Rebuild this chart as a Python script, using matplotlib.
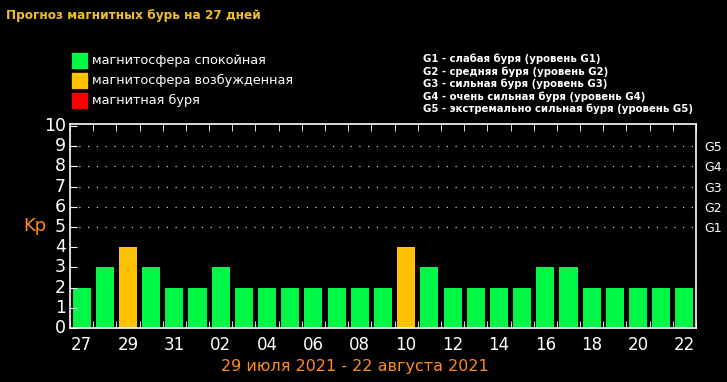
import numpy as np
import matplotlib
matplotlib.use("Agg")
import matplotlib.pyplot as plt

# Forecast data: 27 days, 27 Jul - 22 Aug 2021
days = ["27", "28", "29", "30", "31", "01", "02", "03", "04", "05", "06", "07", "08", "09",
        "10", "11", "12", "13", "14", "15", "16", "17", "18", "19", "20", "21", "22"]
kp = [2, 3, 4, 3, 2, 2, 3, 2, 2, 2, 2, 2, 2, 2, 4, 3, 2, 2, 2, 2, 3, 3, 2, 2, 2, 2, 2]
g_levels = ["G1", "G2", "G3", "G4", "G5"]
legend_labels = ["магнитосфера спокойная", "магнитосфера возбужденная", "магнитная буря"]
g_legend = ["G1 - слабая буря (уровень G1)",
            "G2 - средняя буря (уровень G2)",
            "G3 - сильная буря (уровень G3)",
            "G4 - очень сильная буря (уровень G4)",
            "G5 - экстремально сильная буря (уровень G5)"]

GREEN = "#00f745"
ORANGE = "#ffc000"
RED = "#ff0000"


def bar_color(v):
    if v >= 5:
        return RED
    if v >= 4:
        return ORANGE
    return GREEN


fig = plt.figure(figsize=(7.27, 3.82), dpi=100, facecolor="black")
ax = fig.add_axes([70 / 727, 1 - 328 / 382, 626 / 727, 204 / 382], facecolor="black")

x = np.arange(len(days))
ax.bar(x, kp, width=0.78, color=[bar_color(v) for v in kp])

ax.set_xlim(-0.5, len(days) - 0.5)
ax.set_ylim(0, 10.1)

# dotted grid for storm levels
for lvl in range(5, 10):
    ax.axhline(lvl, color="#cccccc", linestyle=(0, (1, 6)), linewidth=0.9)

for s in ax.spines.values():
    s.set_color("white")
    s.set_linewidth(1.2)

# ticks at day boundaries, inward
ax.set_xticks(np.arange(len(days) + 1) - 0.5, minor=True)
ax.tick_params(axis="x", which="minor", direction="in", length=5, color="white",
               top=True, bottom=True)
ax.set_xticks(x[::2])
ax.set_xticklabels(days[::2], color="white", fontsize=12)
ax.tick_params(axis="x", which="major", length=0, pad=6)

ax.set_yticks(range(0, 11))
ax.set_yticklabels([str(i) for i in range(0, 11)], color="white", fontsize=12.5)
ax.tick_params(axis="y", which="major", left=False, right=True, direction="in",
               length=5, color="white", pad=3)
for lbl in ax.get_yticklabels():
    lbl.set_verticalalignment("center")

ax2 = ax.twinx()
ax2.set_ylim(ax.get_ylim())
ax2.set_yticks(range(5, 10))
ax2.set_yticklabels(g_levels, color="white", fontsize=9)
ax2.tick_params(axis="y", length=0, pad=6)
for s in ax2.spines.values():
    s.set_visible(False)

fig.text(35 / 727, 1 - 226 / 382, "Kp", color="#ff8c1a", fontsize=13, ha="center", va="center")

fig.text(6 / 727, 1 - 15 / 382, "Прогноз магнитных бурь на 27 дней", color="#f0c020",
         fontsize=8.7, fontweight="bold", ha="left", va="center")

for i, (lab, col) in enumerate(zip(legend_labels, [GREEN, ORANGE, RED])):
    yc = 60.5 + i * 20
    fig.patches.append(plt.Rectangle((72 / 727, 1 - (yc + 7.5) / 382), 15 / 727, 15 / 382,
                                     transform=fig.transFigure, color=col))
    fig.text(92 / 727, 1 - yc / 382, lab, color="white", fontsize=9.3, ha="left", va="center")

for i, lab in enumerate(g_legend):
    fig.text(423 / 727, 1 - (59 + i * 12.5) / 382, lab, color="white", fontsize=7.3,
             fontweight="bold", ha="left", va="center")

fig.text(355 / 727, 1 - 367 / 382, "29 июля 2021 - 22 августа 2021", color="#ff8c1a",
         fontsize=11.5, ha="center", va="center")

fig.savefig("out.png", dpi=100, facecolor="black")
